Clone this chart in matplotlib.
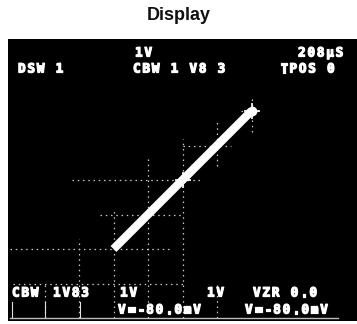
import matplotlib
matplotlib.use("Agg")
import matplotlib.pyplot as plt
import matplotlib.patheffects as pe

# ---- data (in screen divisions: 10 x 8 graticule) ----
trace_x = [3, 7]
trace_y = [2, 6]
marker_x = [5, 7]
marker_y = [4, 6]

# visible graticule fragments (division units)
vert_lines = [  # (x, y0, y1)
    (1, 0.0, 1.0), (2, 0.0, 2.3), (3, 0.0, 3.2), (4, 0.0, 4.6),
    (5, 0.0, 5.2), (6, 4.4, 5.7), (6, 0.0, 1.0), (7, 5.4, 6.4),
]
horiz_lines = [  # (y, x0, x1)
    (1, 0.1, 5.1), (2, 0.0, 4.6), (3, 2.6, 5.0), (4, 1.8, 5.6),
    (5, 5.0, 6.4), (6, 6.7, 7.2),
]

title = "Display"
top_texts = [("1V", 135, 53), ("208µS", 298, 53),
             ("DSW 1", 18, 69), ("CBW 1 V8 3", 133, 69), ("TPOS 0", 280, 69)]
bottom_texts = [("CBW", 12, 293), ("1V83", 53, 293), ("1V", 120, 293),
                ("1V", 207, 293), ("VZR 0.0", 253, 293),
                ("V=-80.0mV", 118, 310), ("V=-80.0mV", 245, 310)]

W, H = 357, 324
fig = plt.figure(figsize=(W / 100, H / 100), dpi=100)
fig.patch.set_facecolor("white")

# screen area in pixels
L, R, T, B = 8, 357, 39, 321
ax = fig.add_axes([L / W, (H - B) / H, (R - L) / W, (B - T) / H])
ax.set_facecolor("black")
DIV = 34.5
X0, Y0 = 10, 318  # pixel of division (0,0)
ax.set_xlim((L - X0) / DIV, (R - X0) / DIV)
ax.set_ylim((Y0 - B) / DIV, (Y0 - T) / DIV)
ax.set_xticks([]); ax.set_yticks([])
for s in ax.spines.values():
    s.set_visible(False)

def px(x, y):
    return (x - X0) / DIV, (Y0 - y) / DIV

gcol = "#c8c8c8"
for x, a, b in vert_lines:
    ax.plot([x, x], [a, b], color=gcol, lw=0.9, ls=(0, (1.2, 3.0)))
for y, a, b in horiz_lines:
    ax.plot([a, b], [y, y], color=gcol, lw=0.9, ls=(0, (1.2, 3.0)))

# bottom frame lines of label area
for xp in [12, 45, 80]:
    x, _ = px(xp, 0)
    ax.plot([x, x], [0, 0.45], color="#e0e0e0", lw=0.8)
ax.plot([0, 9.5], [0, 0], color="#bbbbbb", lw=1.0)

# trace
ax.plot(trace_x, trace_y, color="white", lw=6.0, solid_capstyle="butt")
ax.plot(marker_x, marker_y, ls="none", marker="+", ms=12, mew=1.2, color="white")
ax.plot(trace_x[-1:], trace_y[-1:], ls="none", marker="o", ms=6, color="white")

mono = dict(family="DejaVu Sans Mono", weight="bold", fontsize=9.2, color="white",
            va="center", ha="left",
            path_effects=[pe.withStroke(linewidth=0.9, foreground="white")])
PITCH = 9.4
def put(s, xp, yp):
    for i, ch in enumerate(s):
        if ch == " ":
            continue
        x, y = px(xp + i * PITCH, yp)
        ax.text(x, y, ch, **mono)

for s, xp, yp in top_texts + bottom_texts:
    put(s, xp, yp)

fig.text(0.5, 1 - 16 / H, title, ha="center", va="center",
         family="Liberation Sans", weight="bold", fontsize=13, color="#111111")

fig.savefig("out.png", dpi=100, facecolor="white")
